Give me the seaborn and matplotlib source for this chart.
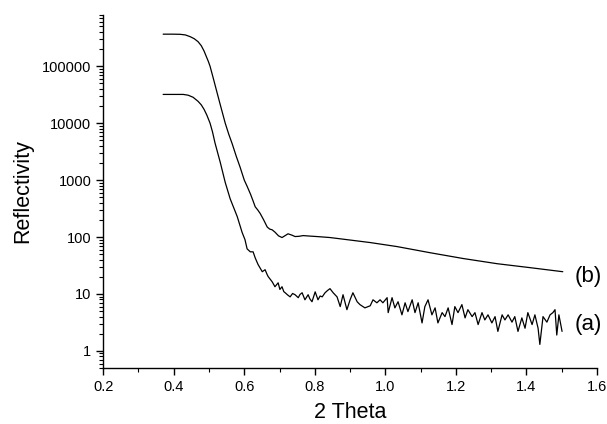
import numpy as np
import pandas as pd
import matplotlib
matplotlib.use("Agg")
import matplotlib.pyplot as plt
from matplotlib.ticker import FuncFormatter, LogLocator, MultipleLocator, NullFormatter
import seaborn as sns

# curve (b): smooth reflectivity
theta_b = [0.370, 0.398, 0.418, 0.433, 0.447, 0.458, 0.469, 0.478, 0.486, 0.493,
           0.498, 0.503, 0.512, 0.522, 0.532, 0.546, 0.556, 0.566, 0.577, 0.588,
           0.600, 0.608, 0.618, 0.625, 0.631, 0.638, 0.645, 0.655, 0.665,
           0.672, 0.679, 0.687, 0.697, 0.707, 0.716, 0.724, 0.735, 0.744, 0.755, 0.767,
           0.785, 0.806, 0.843, 0.891, 0.957, 1.033, 1.127, 1.220, 1.317, 1.410, 1.503]
refl_b = [366000, 366000, 364000, 355000, 330000, 305000, 270000, 230000, 185000, 145000,
          122000, 100000, 62000, 36000, 21000, 10000, 6400, 4300, 2650, 1700,
          1000, 780, 560, 430, 340, 300, 260, 200, 150,
          138, 134, 122, 105, 98, 106, 114, 108, 102, 103, 106,
          104, 102, 98, 90, 80, 68, 53, 42, 34, 29, 24.6]

# curve (a): noisy reflectivity
theta_a = [0.370, 0.398, 0.427, 0.441, 0.455, 0.469, 0.478, 0.486, 0.494, 0.503, 0.510, 0.517,
           0.532, 0.546, 0.560, 0.580, 0.594, 0.602, 0.608, 0.617, 0.625, 0.631,
           0.639, 0.651, 0.659, 0.665, 0.668, 0.679, 0.687, 0.696, 0.701, 0.707, 0.712, 0.716,
           0.723, 0.730, 0.737, 0.744, 0.753, 0.758, 0.764, 0.772, 0.781, 0.786, 0.792, 0.801, 0.809, 0.815, 0.821,
           0.829, 0.836, 0.843, 0.852, 0.863, 0.872, 0.880, 0.891, 0.900, 0.908, 0.920,
           0.928, 0.942, 0.957, 0.965, 0.976, 0.985, 0.993, 1.005, 1.008, 1.019,
           1.027, 1.036, 1.047, 1.056, 1.064, 1.076, 1.084, 1.093, 1.104, 1.112,
           1.121, 1.132, 1.141, 1.149, 1.161, 1.169, 1.178, 1.189, 1.197, 1.206,
           1.217, 1.226, 1.234, 1.246, 1.254, 1.263, 1.274, 1.282, 1.291, 1.302,
           1.311, 1.319, 1.331, 1.339, 1.348, 1.359, 1.367, 1.376, 1.387, 1.396,
           1.404, 1.416, 1.424, 1.433, 1.438, 1.447, 1.458, 1.467, 1.475, 1.481,
           1.486, 1.492, 1.501]
refl_a = [32000, 32000, 32000, 31000, 28500, 24200, 21000, 17500, 13800, 10000, 7000, 4500,
          2040, 910, 470, 229, 120, 90, 62, 55, 55, 43,
          33, 24.6, 26.7, 21.8, 20.1, 16.4, 13.4, 15.7, 12.0, 13.4, 11.0, 10.5,
          9.6, 8.9, 10.2, 9.7, 8.6, 9.8, 10.5, 7.9, 9.7, 8.2, 7.3, 10.9, 7.9, 9.2, 8.9,
          10.5, 11.5, 12.4, 10.5, 8.9, 6.0, 9.7, 5.3, 7.9, 10.5, 7.3,
          6.5, 5.7, 6.2, 7.9, 7.0, 7.9, 7.0, 8.6, 4.7, 8.6,
          5.7, 7.3, 4.3, 7.0, 4.9, 7.9, 4.7, 7.0, 3.1, 6.0,
          7.9, 4.3, 5.7, 3.1, 4.7, 4.0, 5.7, 2.9, 6.0, 4.7,
          6.5, 3.8, 5.3, 4.0, 4.7, 2.9, 4.7, 3.5, 4.3, 3.1,
          4.0, 2.2, 4.3, 3.5, 4.3, 3.2, 4.0, 2.2, 3.8, 2.5,
          4.7, 2.9, 4.3, 2.5, 1.3, 4.0, 3.2, 4.3, 4.7, 5.3,
          1.9, 4.3, 2.2]

labels = ["(b)", "(a)"]
label_x = [1.537, 1.537]
label_y = [20, 2.9]

df_b = pd.DataFrame({"theta": theta_b, "refl": refl_b})
df_a = pd.DataFrame({"theta": theta_a, "refl": refl_a})

sns.set_style("ticks")
plt.rcParams['font.family'] = ['Liberation Sans', 'DejaVu Sans']
plt.rcParams['text.color'] = 'black'
plt.rcParams['axes.labelcolor'] = 'black'
plt.rcParams['xtick.color'] = 'black'
plt.rcParams['ytick.color'] = 'black'

fig = plt.figure(figsize=(6.07, 4.24), dpi=100)
ax = fig.add_axes([0.170, 0.132, 0.8135, 0.833])

sns.lineplot(data=df_b, x="theta", y="refl", color="black", lw=0.9, sort=False, ax=ax)
sns.lineplot(data=df_a, x="theta", y="refl", color="black", lw=0.9, sort=False, ax=ax)

ax.set_yscale("log")
ax.set_xlim(0.2, 1.6)
ax.set_ylim(0.5, 8e5)

ax.xaxis.set_major_locator(MultipleLocator(0.2))
ax.xaxis.set_minor_locator(MultipleLocator(0.1))
ax.xaxis.set_major_formatter(FuncFormatter(lambda v, p: f"{v:.1f}"))
ax.xaxis.set_minor_formatter(NullFormatter())
ax.yaxis.set_major_locator(LogLocator(base=10, numticks=10))
ax.yaxis.set_minor_locator(LogLocator(base=10, subs=np.arange(2, 10), numticks=20))
ax.yaxis.set_major_formatter(FuncFormatter(lambda v, p: f"{v:.0f}"))
ax.yaxis.set_minor_formatter(NullFormatter())

ax.tick_params(axis="both", which="major", length=5, width=1, labelsize=10.5,
               color="black", labelcolor="black")
ax.tick_params(axis="both", which="minor", length=3, width=0.8, color="black")
for s in ["left", "bottom"]:
    ax.spines[s].set_linewidth(1.0)
    ax.spines[s].set_color("black")
sns.despine(ax=ax)

ax.set_xlabel("2 Theta", fontsize=15.5, labelpad=6, color="black")
ax.set_ylabel("Reflectivity", fontsize=15.5, labelpad=6, color="black")

for t, lx, ly in zip(labels, label_x, label_y):
    ax.text(lx, ly, t, fontsize=16, va="center", ha="left", color="black")

fig.savefig("out.png", dpi=100)
